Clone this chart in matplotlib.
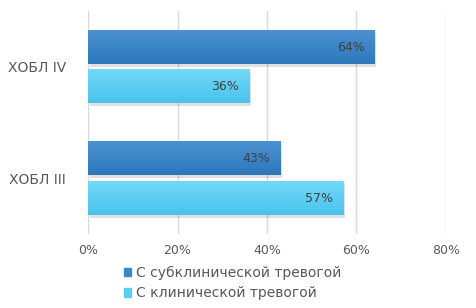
import numpy as np
import matplotlib
matplotlib.use("Agg")
import matplotlib.pyplot as plt
from matplotlib.colors import LinearSegmentedColormap

categories = ["ХОБЛ III", "ХОБЛ IV"]
series_names = ["С субклинической тревогой", "С клинической тревогой"]
subclinical = [0.43, 0.64]
clinical = [0.57, 0.36]
x_ticks = [0, 0.2, 0.4, 0.6, 0.8]
x_labels = ["0%", "20%", "40%", "60%", "80%"]

colors = ["#3a86c8", "#5bcdf3"]
grads = [("#4b91d1", "#2c78bb"), ("#72d9f8", "#48c3ee")]

plt.rcParams['font.family'] = ['DejaVu Sans']
text_color = "#595959"

fig = plt.figure(figsize=(4.77, 3.08), dpi=100)
ax = fig.add_axes([0.1845, 0.240, 0.7505, 0.724])

y = np.arange(len(categories))
h = 0.30
off = 0.177

for vals, sign, col, gr in [(subclinical, 1, colors[0], grads[0]),
                            (clinical, -1, colors[1], grads[1])]:
    pos = y + sign * off
    # soft shadow
    ax.barh(pos - 0.025, vals, height=h, left=0.004, color="#000000",
            alpha=0.12, zorder=2, linewidth=0)
    bars = ax.barh(pos, vals, height=h, color=col, zorder=3, linewidth=0)
    cmap = LinearSegmentedColormap.from_list("g", [gr[1], gr[0]])
    for b, v in zip(bars, vals):
        yb = b.get_y()
        ax.imshow(np.linspace(0, 1, 50).reshape(-1, 1), cmap=cmap,
                  aspect="auto", origin="lower",
                  extent=[0, v, yb, yb + h], zorder=4)
        ax.text(v - 0.022, yb + h / 2, f"{round(v * 100)}%", ha="right",
                va="center", fontsize=9, color="#404040", zorder=5)

ax.set_xlim(0, 0.8)
ax.set_ylim(-0.5, 1.5)
ax.set_xticks(x_ticks)
ax.set_xticklabels(x_labels, fontsize=9, color=text_color)
ax.set_yticks(y)
ax.set_yticklabels(categories, fontsize=10, color=text_color)
ax.grid(axis="x", color="#d9d9d9", linewidth=1, zorder=0)
ax.tick_params(axis="y", length=0, pad=16)
ax.tick_params(axis="x", length=0, pad=7)
for s in ax.spines.values():
    s.set_visible(False)

handles = [plt.Rectangle((0, 0), 1, 1, color=c) for c in colors]
fig.legend(handles, series_names, loc="upper left",
           bbox_to_anchor=(0.259, 0.136), frameon=False, fontsize=10,
           labelcolor=text_color, handlelength=0.55, handleheight=0.55,
           handletextpad=0.35, labelspacing=0.45, borderaxespad=0,
           borderpad=0)

fig.savefig("out.png", dpi=100)
